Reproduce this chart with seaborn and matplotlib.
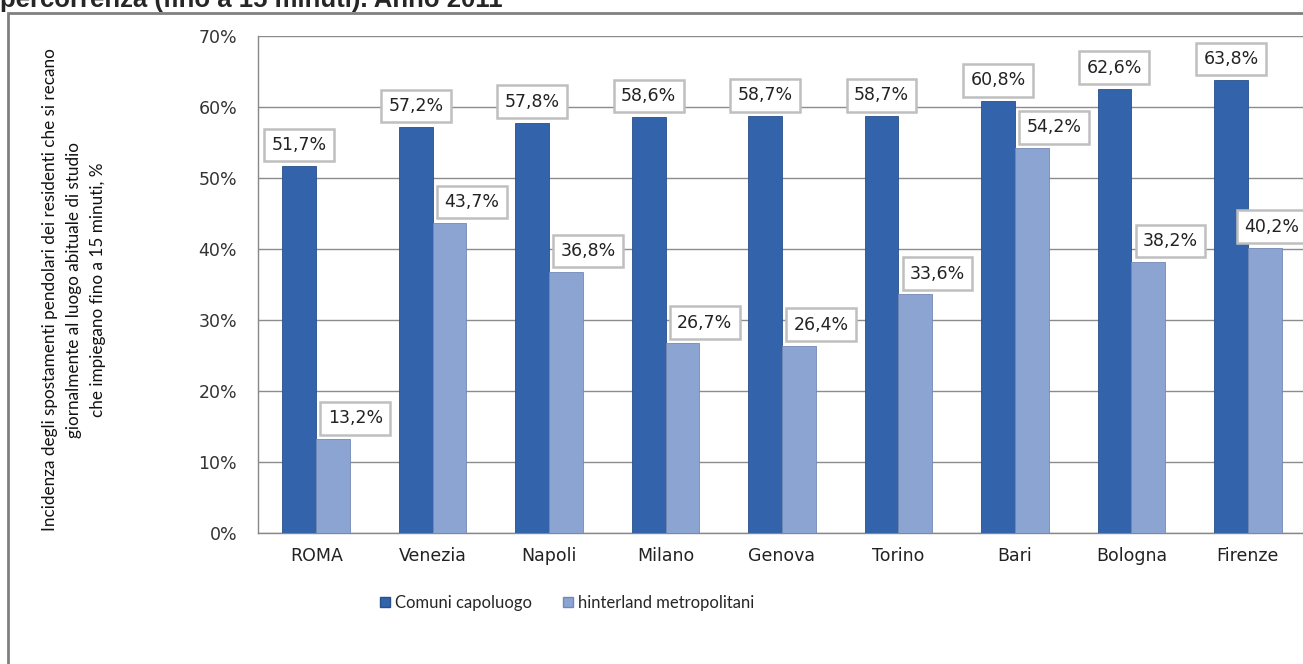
import matplotlib
matplotlib.use("Agg")
import pandas as pd
import matplotlib.pyplot as plt
import matplotlib.patches as mpatches
import seaborn as sns

# Data
cities = ["ROMA", "Venezia", "Napoli", "Milano", "Genova", "Torino", "Bari", "Bologna", "Firenze"]
comuni = [51.7, 57.2, 57.8, 58.6, 58.7, 58.7, 60.8, 62.6, 63.8]
hinterland = [13.2, 43.7, 36.8, 26.7, 26.4, 33.6, 54.2, 38.2, 40.2]
series_names = ["Comuni capoluogo", "hinterland metropolitani"]
y_ticks = [0, 10, 20, 30, 40, 50, 60, 70]

title_text = "percorrenza (fino a 15 minuti). Anno 2011"
y_label = ("Incidenza degli spostamenti pendolari dei residenti che si recano\n"
           "giornalmente al luogo abituale di studio\n"
           "che impiegano fino a 15 minuti, %")

# horizontal shift (points) of the data labels of the second series
hinter_label_dx = [16, 16, 16, 16, 16, 16, 16, 16, 5]

df = pd.DataFrame({
    "city": cities * 2,
    "serie": [series_names[0]] * len(cities) + [series_names[1]] * len(cities),
    "value": comuni + hinterland,
})

sns.set_style("white")
plt.rcParams["font.family"] = ["DejaVu Sans"]

colors = {series_names[0]: "#3263AB", series_names[1]: "#8BA4D2"}
edges = {series_names[0]: "#28508c", series_names[1]: "#7389b5"}

fig = plt.figure(figsize=(13.03, 6.64), dpi=100)
ax = fig.add_axes([258 / 1303, 131 / 664, 1048 / 1303, 497 / 664])

sns.barplot(data=df, x="city", y="value", hue="serie", order=cities,
            hue_order=series_names, palette=colors, width=0.58, gap=0,
            saturation=1, legend=False, ax=ax, zorder=3)

for container, name in zip(ax.containers, series_names):
    for patch in container:
        patch.set_edgecolor(edges[name])
        patch.set_linewidth(0.6)

ax.set_xlim(-0.5, len(cities) - 0.5)
ax.set_ylim(0, 70)
ax.set_yticks(y_ticks)
ax.set_yticklabels([f"{v}%" for v in y_ticks], fontsize=12.5, color="#333333")
ax.set_xticks(range(len(cities)))
ax.set_xticklabels(cities, fontsize=12.5, color="#222222")
ax.set_xticks([i - 0.5 for i in range(len(cities) + 1)], minor=True)
ax.tick_params(axis="x", which="major", length=0, pad=10)
ax.tick_params(axis="x", which="minor", length=7, color="#888888", width=1)
ax.tick_params(axis="y", length=7, color="#888888", width=1, pad=8)
ax.set_xlabel("")
ax.set_ylabel("")
ax.grid(axis="y", color="#8c8c8c", linewidth=1, zorder=0)
ax.set_axisbelow(True)
for side in ["top", "right"]:
    ax.spines[side].set_visible(False)
for side in ["left", "bottom"]:
    ax.spines[side].set_color("#888888")
    ax.spines[side].set_linewidth(1)

box = dict(boxstyle="square,pad=0.42", facecolor="white", edgecolor="#bfbfbf", linewidth=1.8)
for ci, container in enumerate(ax.containers):
    for i, bar in enumerate(container):
        h = bar.get_height()
        dx = 0 if ci == 0 else hinter_label_dx[i]
        ax.annotate(f"{h:.1f}%".replace(".", ","),
                    xy=(bar.get_x() + bar.get_width() / 2, h),
                    xytext=(dx, 15), textcoords="offset points",
                    ha="center", va="center", fontsize=12.5, color="#222222",
                    bbox=box, zorder=5, annotation_clip=False)

fig.text(74 / 1303, 1 - 290 / 664, y_label, rotation=90, ha="center", va="center",
         multialignment="center", fontsize=12.3, family=["Lato", "DejaVu Sans"],
         color="#111111", linespacing=1.6)

handles = [mpatches.Patch(facecolor=colors[n], edgecolor=edges[n], label=n)
           for n in series_names]
fig.legend(handles=handles, loc="center", bbox_to_anchor=(567 / 1303, 1 - 603 / 664),
           ncol=2, frameon=False, handlelength=0.6, handleheight=0.6,
           handletextpad=0.3, columnspacing=1.9,
           prop={"family": ["Lato", "DejaVu Sans"], "size": 12})

fig.add_artist(mpatches.Rectangle((8 / 1303, -0.1), 1.2, 1 - 13 / 664 + 0.1,
                                  transform=fig.transFigure, fill=False,
                                  edgecolor="#808080", linewidth=2))

# title is cut by the top edge, as in the reference
fig.text(0.0, 1 - 7 / 664, title_text, ha="left", va="baseline",
         fontsize=18.5, fontweight="bold", family=["Liberation Sans", "DejaVu Sans"])

fig.savefig("out.png", dpi=100)
